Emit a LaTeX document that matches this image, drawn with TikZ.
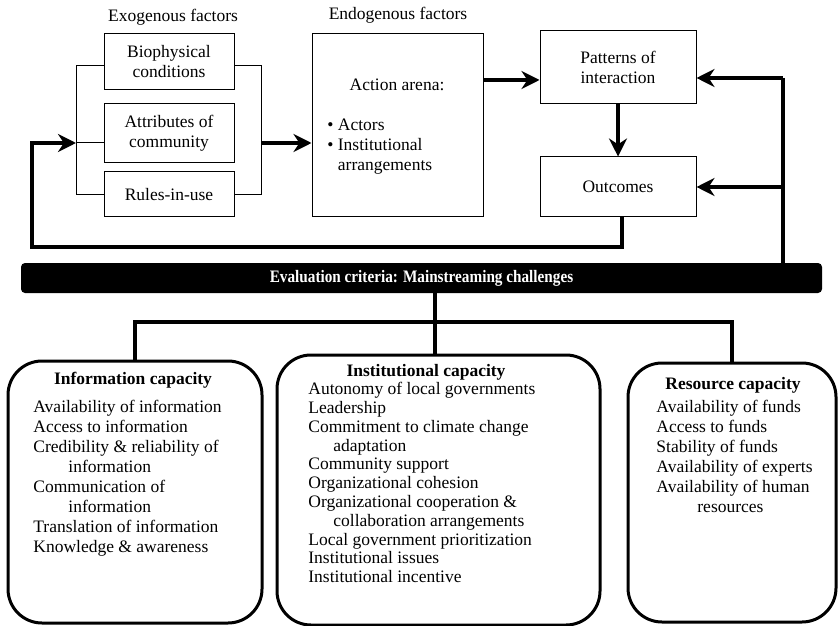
\documentclass[tikz,border=0pt]{standalone}
\usepackage{fontspec}
\setmainfont{Liberation Serif}
\usepackage{graphicx}
\usetikzlibrary{positioning,arrows.meta}

\begin{document}
\begin{tikzpicture}[x=0.5pt,y=-0.5pt,>={Stealth[length=9pt,width=9pt]},
  every node/.style={font=\fontsize{8.75}{10}\selectfont},
  factor/.style={draw,line width=0.5pt,align=center,inner sep=0pt},
  capbox/.style={draw,line width=1.5pt,rounded corners=17pt,inner sep=0pt},
  light/.style={line width=0.5pt},
  heavy/.style={line width=1.6pt}]
\useasboundingbox (0,0) rectangle (838,625);

% exogenous factors
\node (exo) at (173,17) {Exogenous factors};
\node[factor,minimum width=65pt,minimum height=28pt] (bio) at (169,62) {Biophysical\\conditions};
\node[factor,minimum width=65pt,minimum height=29.5pt] (attr) at (169,133.5) {Attributes of\\community};
\node[factor,minimum width=65pt,minimum height=22.5pt] (rules) at (169,194.5) {Rules-in-use};

% endogenous factors
\node (endo) at (398,15) {Endogenous factors};
\node[factor,minimum width=85.5pt,minimum height=91.5pt] (arena) at (397.5,125.5) {};
\node (arenatitle) at (397,85) {Action arena:};
\node[anchor=north west,align=left,inner sep=0pt] (arenalist) at (327,119)
  {\textbullet\ Actors\\\textbullet\ Institutional\\\phantom{\textbullet\ }arrangements};
\node[factor,minimum width=78pt,minimum height=36.5pt] (pat) at (618,67.5) {Patterns of\\interaction};
\node[factor,minimum width=78pt,minimum height=30pt] (out) at (618,187) {Outcomes};

% evaluation bar
\node[fill=black,text=white,rounded corners=2pt,minimum width=400.5pt,minimum height=15pt,inner sep=0pt] (bar) at (421.5,278)
  {\scalebox{0.87}[1]{\textbf{Evaluation criteria: Mainstreaming challenges}}};

% capacity boxes
\node[capbox,minimum width=127pt,minimum height=131pt] (info) at (135,492) {};
\node[capbox,minimum width=161.5pt,minimum height=135pt] (inst) at (438.5,490) {};
\node[capbox,minimum width=104pt,minimum height=129.5pt] (res) at (732,492.5) {};

\node (infotitle) at (133,380) {\textbf{Information capacity}};
\node[anchor=north west,align=left,inner sep=0pt] (infolist) at (33,400)
  {Availability of information\\Access to information\\Credibility \& reliability of\\\hspace{17.5pt}information\\
   Communication of\\\hspace{17.5pt}information\\Translation of information\\Knowledge \& awareness};

\node (insttitle) at (426,372) {\textbf{Institutional capacity}};
\node[anchor=north west,align=left,inner sep=0pt,font=\fontsize{8.75}{9.4}\selectfont] (instlist) at (308,382)
  {Autonomy of local governments\\Leadership\\Commitment to climate change\\\hspace{12.5pt}adaptation\\Community support\\
   Organizational cohesion\\Organizational cooperation \&\\\hspace{12.5pt}collaboration arrangements\\
   Local government prioritization\\Institutional issues\\Institutional incentive};

\node (restitle) at (733,385) {\textbf{Resource capacity}};
\node[anchor=north west,align=left,inner sep=0pt] (reslist) at (656,400)
  {Availability of funds\\Access to funds\\Stability of funds\\Availability of experts\\Availability of human\\\hspace{20.5pt}resources};

% brackets round the exogenous factors
\coordinate (lt) at (76,66);
\coordinate (lb) at (76,195);
\coordinate (lmid) at (76,143);
\coordinate (rt) at (261,66);
\coordinate (rb) at (261,195);
\coordinate (rmid) at (261,143);
\draw[light] (lt -| bio.west) -- (lt) -- (lb) -- (lb -| rules.west);
\draw[light] (lmid) -- (lmid -| attr.west);
\draw[light] (rt -| bio.east) -- (rt) -- (rb) -- (rb -| rules.east);
\draw[heavy,->] (rmid) -- (rmid -| arena.west);

% arena to patterns to outcomes
\coordinate (pin) at (540,80);
\draw[heavy,->] (arena.east |- pin) -- (pin -| pat.west);
\draw[heavy,->] (pat.south) -- (out.north);

% feedback loops
\coordinate (loop) at (32,247);
\draw[heavy,->] ([xshift=2pt]out.south) |- (loop) |- (lmid);
\coordinate (rtop) at (783,78);
\draw[heavy] (rtop) -- (rtop |- bar.north);
\draw[heavy,->] (rtop) -- (rtop -| pat.east);
\draw[heavy,->] (rtop |- out) -- (out.east);

% bar to capacity boxes
\coordinate (hub) at (435,322);
\draw[heavy] (bar.south -| hub) -- (hub |- inst.north);
\draw[heavy] (info.north) |- (hub -| res.north) -- (res.north);
\end{tikzpicture}
\end{document}
